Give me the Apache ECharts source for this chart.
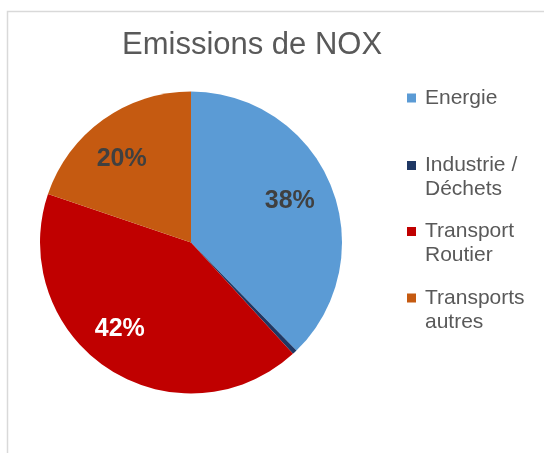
<!DOCTYPE html>
<html>
<head>
<meta charset="utf-8">
<script src="https://cdn.jsdelivr.net/npm/echarts@6/dist/echarts.min.js"></script>
<style>html,body{margin:0;padding:0;background:#fff;}#c{width:544px;height:453px;}</style>
</head>
<body>
<div id="c"></div>
<script>
const titleText = 'Emissions de NOX';
const categories = ['Energie', 'Industrie / Déchets', 'Transport Routier', 'Transports autres'];
const values = [37.7, 0.5, 42.0, 19.8];
const colors = ['#5B9BD5', '#1F3864', '#C00000', '#C55A11'];
const labelColors = ['#404040', '#404040', '#ffffff', '#404040'];
const showLabel = [true, false, true, true];
const labelNudge = [[-5, 1], [0, 0], [-10, -7], [-4, 8]];

const chart = echarts.init(document.getElementById('c'), null, {renderer: 'canvas'});
const FONT = '"Liberation Sans", Arial, sans-serif';
const center = [191, 242.5];
const R = 151;

const pieData = categories.map((n, i) => ({name: n, value: values[i], itemStyle: {color: colors[i]}}));
const labelData = categories.map((n, i) => ({
  name: n, value: values[i],
  label: {show: showLabel[i], color: labelColors[i]}
}));

const legendTops = [86, 129.5, 195.5, 262];
const legends = categories.map((n, i) => ({
  data: [n],
  orient: 'vertical',
  left: 407,
  top: legendTops[i],
  padding: 0,
  itemWidth: 9,
  itemHeight: 9,
  icon: 'rect',
  selectedMode: false,
  formatter: i === 0 ? '{name}' : '\n{name}',
  textStyle: {
    fontFamily: FONT, fontSize: 21, color: '#595959', lineHeight: 24,
    width: 112, overflow: 'break',
    padding: [0, 0, 0, 4]
  }
}));

chart.setOption({
  animation: false,
  title: {
    text: titleText, left: 122, top: 30, padding: 0,
    textStyle: {fontFamily: FONT, fontSize: 31, fontWeight: 'normal', color: '#595959'}
  },
  legend: legends,
  graphic: [{
    type: 'rect', silent: true,
    shape: {x: 7.5, y: 11.5, width: 700, height: 600},
    style: {fill: 'none', stroke: '#d9d9d9', lineWidth: 1.5}
  }],
  series: [{
    type: 'pie',
    center: center,
    radius: [0, R],
    startAngle: 90,
    clockwise: true,
    avoidLabelOverlap: false,
    silent: true,
    label: {show: false},
    labelLine: {show: false},
    itemStyle: {borderWidth: 0},
    data: pieData
  }, {
    type: 'pie',
    center: center,
    radius: [67, R],
    startAngle: 90,
    clockwise: true,
    avoidLabelOverlap: false,
    silent: true,
    itemStyle: {color: 'rgba(0,0,0,0)', borderWidth: 0},
    label: {
      show: true, position: 'inside',
      formatter: '{d}%',
      fontFamily: FONT, fontSize: 25, fontWeight: 'bold'
    },
    labelLayout: function (p) {
      const o = labelNudge[p.dataIndex];
      return {dx: o[0], dy: o[1]};
    },
    percentPrecision: 0,
    labelLine: {show: false},
    data: labelData
  }]
});
</script>
</body>
</html>
